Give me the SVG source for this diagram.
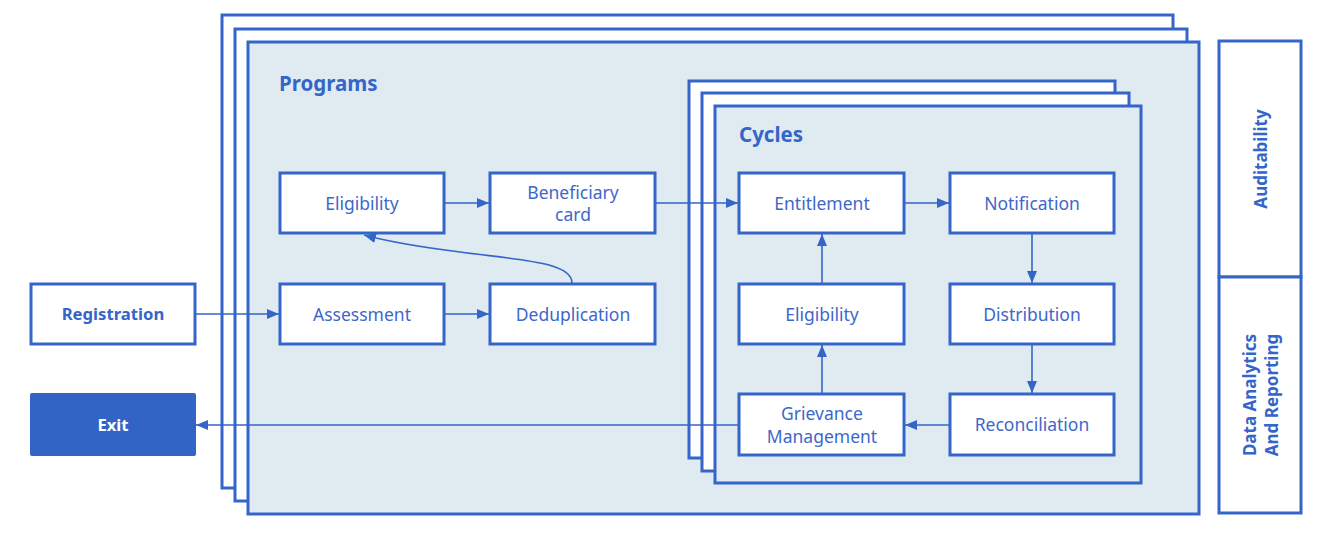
<svg xmlns="http://www.w3.org/2000/svg" width="1317" height="533" viewBox="0 0 1317 533">
<defs>
<style>
.frame{fill:#ffffff;stroke:#3465C9;stroke-width:3}
.frameMain{fill:#E0EBF1;stroke:#3465C9;stroke-width:3}
.node{fill:#ffffff;stroke:#3465C9;stroke-width:3}
.exit{fill:#3264C6;stroke:#3264C6;stroke-width:2}
.lbl{font-family:"Noto Sans","Open Sans",sans-serif;font-size:17.5px;fill:#3E67CB;text-anchor:middle}
.bold{font-family:"Noto Sans","Open Sans",sans-serif;font-weight:bold;fill:#3465C9}
.conn{fill:none;stroke:#3465C9;stroke-width:1.6}
</style>
<marker id="arr" viewBox="0 0 12 10" refX="12" refY="5" markerWidth="12" markerHeight="10" markerUnits="userSpaceOnUse" orient="auto">
<path d="M0,0 L12,5 L0,10 Z" fill="#3465C9"/>
</marker>
</defs>
<rect width="1317" height="533" fill="#ffffff"/>

<g id="programs">
<rect class="frame" x="222" y="15" width="951" height="473"/>
<rect class="frame" x="235" y="29" width="952" height="472"/>
<rect class="frameMain" x="248" y="42" width="951" height="472"/>
<text class="bold" x="279" y="91" font-size="20.5">Programs</text>
</g>

<g id="cycles">
<rect class="frame" x="689" y="81" width="426" height="377"/>
<rect class="frame" x="702" y="93" width="427" height="378"/>
<rect class="frameMain" x="715" y="106" width="426" height="377"/>
<text class="bold" x="739" y="142" font-size="20.5">Cycles</text>
</g>

<g id="side">
<rect class="node" x="1219" y="41" width="82" height="236"/>
<rect class="node" x="1219" y="277" width="82" height="236"/>
<text class="bold" font-size="17" text-anchor="middle" transform="translate(1267,159) rotate(-90)">Auditability</text>
<text class="bold" font-size="17" text-anchor="middle" transform="translate(1256,395) rotate(-90)">Data Analytics</text>
<text class="bold" font-size="17" text-anchor="middle" transform="translate(1278,395) rotate(-90)">And Reporting</text>
</g>

<g id="registration">
<rect class="node" x="31" y="284" width="164" height="60"/>
<text class="bold" x="113" y="320" font-size="16.7" text-anchor="middle">Registration</text>
</g>
<g id="exit">
<rect class="exit" x="31" y="394" width="164" height="61" rx="1"/>
<text x="113" y="431" font-size="16.7" text-anchor="middle" font-weight="bold" font-family="Noto Sans, Open Sans, sans-serif" fill="#ffffff">Exit</text>
</g>

<g id="eligibility-p">
<rect class="node" x="280" y="173" width="164" height="60"/>
<text class="lbl" x="362" y="210">Eligibility</text>
</g>
<g id="beneficiary">
<rect class="node" x="490" y="173" width="165" height="60"/>
<text class="lbl" x="573" y="199">Beneficiary</text>
<text class="lbl" x="573" y="221">card</text>
</g>
<g id="assessment">
<rect class="node" x="280" y="284" width="164" height="60"/>
<text class="lbl" x="362" y="321">Assessment</text>
</g>
<g id="deduplication">
<rect class="node" x="490" y="284" width="165" height="60"/>
<text class="lbl" x="573" y="321">Deduplication</text>
</g>

<g id="entitlement">
<rect class="node" x="739" y="173" width="165" height="60"/>
<text class="lbl" x="822" y="210">Entitlement</text>
</g>
<g id="notification">
<rect class="node" x="950" y="173" width="164" height="60"/>
<text class="lbl" x="1032" y="210">Notification</text>
</g>
<g id="eligibility-c">
<rect class="node" x="739" y="284" width="165" height="60"/>
<text class="lbl" x="822" y="321">Eligibility</text>
</g>
<g id="distribution">
<rect class="node" x="950" y="284" width="164" height="60"/>
<text class="lbl" x="1032" y="321">Distribution</text>
</g>
<g id="grievance">
<rect class="node" x="739" y="394" width="165" height="61"/>
<text class="lbl" x="822" y="420">Grievance</text>
<text class="lbl" x="822" y="443">Management</text>
</g>
<g id="reconciliation">
<rect class="node" x="950" y="394" width="164" height="61"/>
<text class="lbl" x="1032" y="431">Reconciliation</text>
</g>

<g id="connectors">
<line class="conn" x1="196" y1="314" x2="279" y2="314" marker-end="url(#arr)"/>
<line class="conn" x1="445" y1="314" x2="489" y2="314" marker-end="url(#arr)"/>
<line class="conn" x1="445" y1="203" x2="489" y2="203" marker-end="url(#arr)"/>
<line class="conn" x1="656" y1="203" x2="738" y2="203" marker-end="url(#arr)"/>
<line class="conn" x1="905" y1="203" x2="949" y2="203" marker-end="url(#arr)"/>
<line class="conn" x1="1032" y1="234" x2="1032" y2="283" marker-end="url(#arr)"/>
<line class="conn" x1="1032" y1="345" x2="1032" y2="393" marker-end="url(#arr)"/>
<line class="conn" x1="949" y1="425" x2="905" y2="425" marker-end="url(#arr)"/>
<line class="conn" x1="822" y1="393" x2="822" y2="345" marker-end="url(#arr)"/>
<line class="conn" x1="822" y1="283" x2="822" y2="234" marker-end="url(#arr)"/>
<line class="conn" x1="738" y1="425" x2="196" y2="425" marker-end="url(#arr)"/>
<path class="conn" d="M572,283 C572,262 520,260 460,252 C420,247 390,242 364,235" marker-end="url(#arr)"/>
</g>
</svg>
